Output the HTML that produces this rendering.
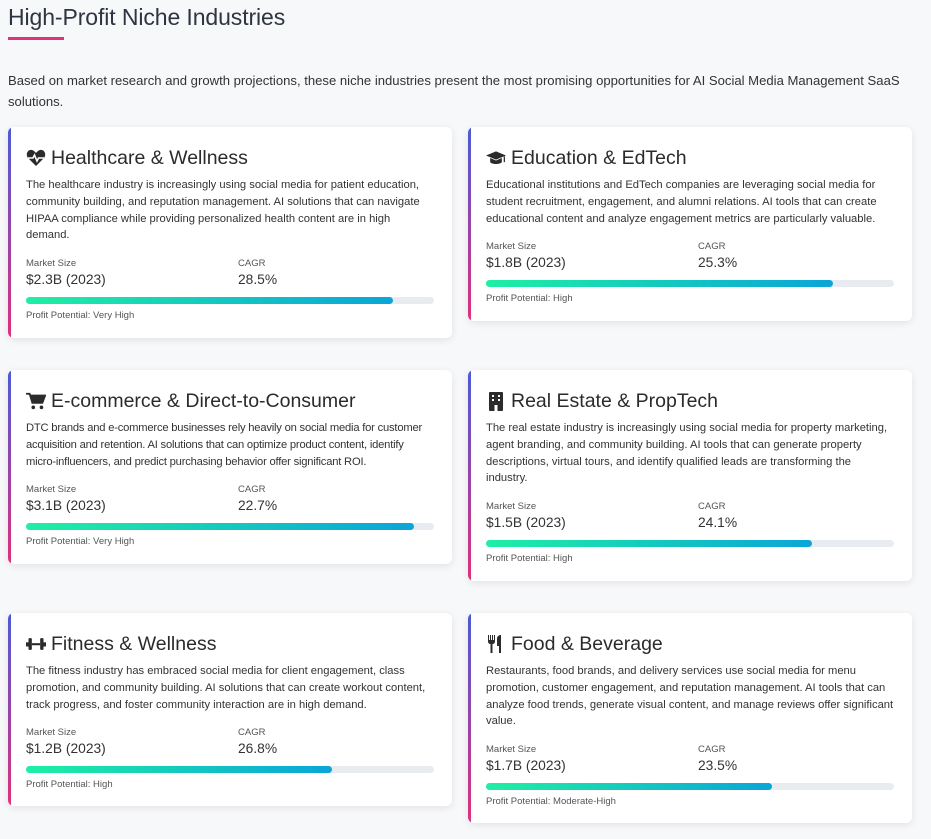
<!DOCTYPE html>
<html><head><meta charset="utf-8"><style>
*{box-sizing:border-box;margin:0;padding:0}
body{width:931px;height:839px;background:#f7f8fa;font-family:"Liberation Sans",sans-serif;color:#333;position:relative;overflow:hidden}
h1{position:absolute;left:8px;top:4px;font-size:23px;font-weight:normal;color:#2f3540;letter-spacing:-0.1px}
.ul{position:absolute;left:8px;top:37px;width:56px;height:3px;background:#e0337e}
.intro{position:absolute;left:8px;top:70px;width:912px;font-size:13.1px;line-height:21px;color:#333}
.card{position:absolute;width:444px;background:#fff;border-radius:6px;box-shadow:0 2px 8px rgba(0,0,0,.09);padding:19px 18px 0 18px;overflow:hidden}
.card:before{content:"";position:absolute;left:0;top:0;bottom:0;width:3px;background:linear-gradient(#4a5bd6,#e0307c)}
.t{font-size:19.5px;line-height:24px;color:#2b2b2b;display:flex;align-items:center;gap:5px}
.t svg{width:20px;height:20px}
.d{font-size:11.2px;line-height:16.8px;margin-top:7px;color:#333}
.m{display:flex;margin-top:14px}
.m div{width:212px}
.l{font-size:9.5px;color:#555;line-height:12px}
.v{font-size:13.8px;line-height:20px;color:#333}
.bar{margin-top:7px;height:7px;border-radius:4px;background:#e8ecf0}
.bar i{display:block;height:7px;border-radius:4px;background:linear-gradient(90deg,#1fefa3,#0aa5d8)}
.p{font-size:9.5px;color:#555;margin-top:6px;line-height:12px}
</style></head><body>
<h1>High-Profit Niche Industries</h1><div class="ul"></div>
<div class="intro">Based on market research and growth projections, these niche industries present the most promising opportunities for AI Social Media Management SaaS solutions.</div>

<div class="card" style="left:8px;top:127px;height:211px">
<div class="t"><svg viewBox="0 0 20 20"><path d="M10 18L2 10C-1 6 2 1 6 2c2 .5 3 2 4 3 1-1 2-2.5 4-3 4-1 7 4 4 8z" fill="#2b2b2b"/><path d="M2 10h5l1.5-3 2.5 6 1.5-3H18" stroke="#fff" stroke-width="1.6" fill="none"/></svg>Healthcare &amp; Wellness</div>
<div class="d">The healthcare industry is increasingly using social media for patient education, community building, and reputation management. AI solutions that can navigate HIPAA compliance while providing personalized health content are in high demand.</div>
<div class="m"><div><div class="l">Market Size</div><div class="v">$2.3B (2023)</div></div><div><div class="l">CAGR</div><div class="v">28.5%</div></div></div>
<div class="bar"><i style="width:90%"></i></div><div class="p">Profit Potential: Very High</div></div>

<div class="card" style="left:468px;top:127px;height:194px">
<div class="t"><svg viewBox="0 0 24 20"><path d="M12 2L0 7l12 5 12-5z" fill="#2b2b2b"/><path d="M5 10v5c2 3 12 3 14 0v-5l-7 3z" fill="#2b2b2b"/><path d="M22 8v7" stroke="#2b2b2b" stroke-width="1.5"/></svg>Education &amp; EdTech</div>
<div class="d">Educational institutions and EdTech companies are leveraging social media for student recruitment, engagement, and alumni relations. AI tools that can create educational content and analyze engagement metrics are particularly valuable.</div>
<div class="m"><div><div class="l">Market Size</div><div class="v">$1.8B (2023)</div></div><div><div class="l">CAGR</div><div class="v">25.3%</div></div></div>
<div class="bar"><i style="width:85%"></i></div><div class="p">Profit Potential: High</div></div>

<div class="card" style="left:8px;top:370px;height:194px">
<div class="t"><svg viewBox="0 0 22 20"><path d="M0 2h4l3 10h11l3-8H5" stroke="#2b2b2b" stroke-width="2" fill="#2b2b2b"/><circle cx="8" cy="17" r="2" fill="#2b2b2b"/><circle cx="17" cy="17" r="2" fill="#2b2b2b"/></svg>E-commerce &amp; Direct-to-Consumer</div>
<div class="d" style="letter-spacing:-0.2px">DTC brands and e-commerce businesses rely heavily on social media for customer acquisition and retention. AI solutions that can optimize product content, identify micro-influencers, and predict purchasing behavior offer significant ROI.</div>
<div class="m"><div><div class="l">Market Size</div><div class="v">$3.1B (2023)</div></div><div><div class="l">CAGR</div><div class="v">22.7%</div></div></div>
<div class="bar"><i style="width:95%"></i></div><div class="p">Profit Potential: Very High</div></div>

<div class="card" style="left:468px;top:370px;height:211px">
<div class="t"><svg viewBox="0 0 20 20"><rect x="3" y="1" width="14" height="19" rx="1" fill="#2b2b2b"/><g fill="#fff"><rect x="6" y="4" width="2" height="2"/><rect x="12" y="4" width="2" height="2"/><rect x="6" y="8" width="2" height="2"/><rect x="12" y="8" width="2" height="2"/><rect x="8.5" y="14" width="3" height="6"/></g></svg>Real Estate &amp; PropTech</div>
<div class="d">The real estate industry is increasingly using social media for property marketing, agent branding, and community building. AI tools that can generate property descriptions, virtual tours, and identify qualified leads are transforming the industry.</div>
<div class="m"><div><div class="l">Market Size</div><div class="v">$1.5B (2023)</div></div><div><div class="l">CAGR</div><div class="v">24.1%</div></div></div>
<div class="bar"><i style="width:80%"></i></div><div class="p">Profit Potential: High</div></div>

<div class="card" style="left:8px;top:613px;height:193px">
<div class="t"><svg viewBox="0 0 24 20"><rect x="0" y="8" width="3" height="5" fill="#2b2b2b"/><rect x="3" y="3" width="4" height="14" rx="1" fill="#2b2b2b"/><rect x="7" y="9" width="10" height="2.5" fill="#2b2b2b"/><rect x="17" y="3" width="4" height="14" rx="1" fill="#2b2b2b"/><rect x="21" y="8" width="3" height="5" fill="#2b2b2b"/></svg>Fitness &amp; Wellness</div>
<div class="d">The fitness industry has embraced social media for client engagement, class promotion, and community building. AI solutions that can create workout content, track progress, and foster community interaction are in high demand.</div>
<div class="m"><div><div class="l">Market Size</div><div class="v">$1.2B (2023)</div></div><div><div class="l">CAGR</div><div class="v">26.8%</div></div></div>
<div class="bar"><i style="width:75%"></i></div><div class="p">Profit Potential: High</div></div>

<div class="card" style="left:468px;top:613px;height:210px">
<div class="t"><svg viewBox="0 0 20 20"><path d="M2 1v6c0 2 1 3 2.5 3V19h2V10C8 10 9 9 9 7V1H8v5H7V1H6v5H5V1H4v5H3V1z" fill="#2b2b2b"/><path d="M13 19V12h-2V5c0-3 2-4 4-4V19z" fill="#2b2b2b"/></svg>Food &amp; Beverage</div>
<div class="d">Restaurants, food brands, and delivery services use social media for menu promotion, customer engagement, and reputation management. AI tools that can analyze food trends, generate visual content, and manage reviews offer significant value.</div>
<div class="m"><div><div class="l">Market Size</div><div class="v">$1.7B (2023)</div></div><div><div class="l">CAGR</div><div class="v">23.5%</div></div></div>
<div class="bar"><i style="width:70%"></i></div><div class="p">Profit Potential: Moderate-High</div></div>
</body></html>
